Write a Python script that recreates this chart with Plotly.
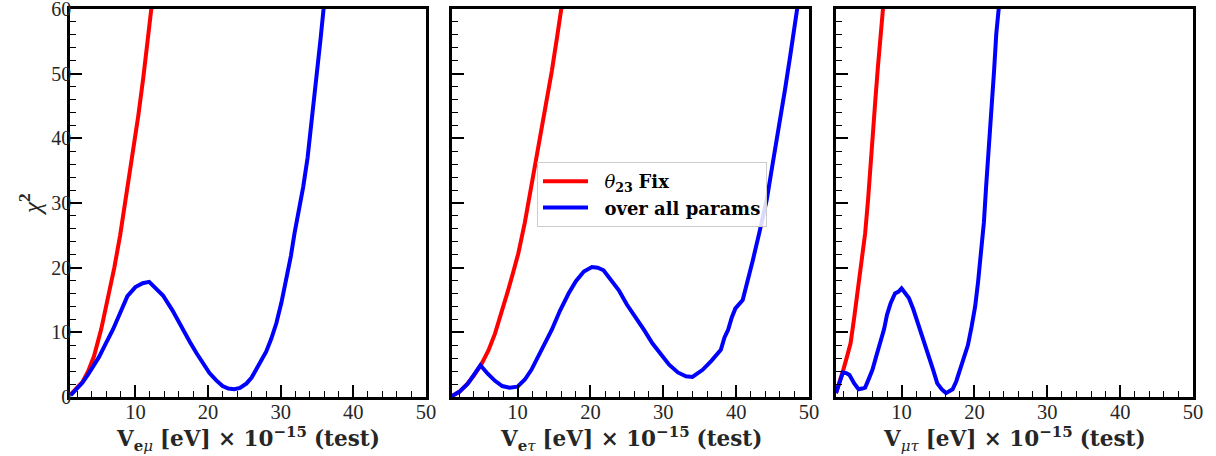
import plotly.graph_objects as go

# ---------------- data ----------------
p1_red_x = [1.0, 2.0, 2.7, 3.5, 4.3, 5.3, 6.2, 7.1, 7.9, 8.6, 9.6, 10.4, 11.1, 11.7, 12.2, 12.5]
p1_red_y = [0.3, 1.4, 2.3, 4.0, 6.3, 10.5, 15.0, 20.0, 25.0, 30.0, 37.0, 43.5, 49.5, 55.0, 60.0, 63.0]
p1_blue_x = [1.1, 2.0, 2.7, 3.5, 4.3, 5.0, 5.9, 6.9, 7.9, 8.9, 10.0, 11.0, 11.9, 12.8, 13.8, 15.1, 16.5,
             17.5, 18.4, 19.3, 20.2, 21.1, 22.0, 22.8, 23.6, 24.4, 25.3, 26.0, 26.6, 27.3, 28.0, 28.7,
             29.4, 30.1, 30.8, 31.4, 31.9, 32.5, 33.1, 33.7, 34.2, 34.7, 35.1, 35.5, 35.9, 36.2]
p1_blue_y = [0.3, 1.3, 2.2, 3.5, 4.8, 6.2, 8.2, 10.4, 13.0, 15.6, 17.0, 17.6, 17.8, 16.9, 15.7, 13.4, 10.4,
             8.5, 6.8, 5.2, 3.7, 2.6, 1.7, 1.3, 1.2, 1.4, 2.1, 3.0, 4.2, 5.5, 7.0, 9.0,
             11.4, 14.6, 18.1, 21.8, 25.3, 28.8, 32.5, 37.0, 41.8, 46.7, 51.1, 55.5, 60.0, 63.5]

p2_red_x = [0.9, 2.0, 3.0, 4.0, 5.0, 6.0, 6.9, 7.8, 8.7, 9.4, 10.1, 11.0, 11.9, 12.7, 13.6, 14.2, 14.7, 15.4, 16.0, 16.3]
p2_red_y = [0.1, 0.8, 1.9, 3.3, 5.0, 7.2, 9.8, 13.0, 16.5, 19.3, 22.2, 27.0, 32.5, 37.5, 43.0, 46.9, 50.4, 55.5, 60.0, 62.3]
p2_blue_x = [0.9, 2.0, 3.2, 4.2, 4.9, 5.9, 6.9, 7.9, 8.9, 10.0, 11.0, 11.9, 12.9, 13.8, 14.7, 15.8, 17.0,
             18.0, 19.1, 20.2, 21.0, 21.8, 22.8, 23.9, 25.0, 26.2, 27.4, 28.5, 29.7, 30.8, 32.0, 33.1,
             34.0, 35.4, 36.6, 37.9, 38.4, 38.9, 39.4, 39.9, 40.9, 41.6, 42.3, 43.2, 44.2, 45.0, 45.9,
             46.7, 47.4, 48.0, 48.4, 48.7]
p2_blue_y = [0.1, 0.8, 2.1, 3.6, 4.9, 3.6, 2.5, 1.7, 1.45, 1.6, 2.7, 4.2, 6.5, 8.6, 10.4, 13.3, 16.0,
             17.9, 19.4, 20.1, 20.0, 19.6, 18.2, 16.5, 14.3, 12.4, 10.3, 8.3, 6.5, 5.0, 3.8, 3.2,
             3.1, 4.2, 5.6, 7.3, 9.2, 10.4, 12.3, 13.7, 15.0, 18.0, 21.2, 25.5, 30.5, 36.0, 41.8,
             47.5, 52.6, 57.0, 60.0, 62.5]

p3_red_x = [1.0, 1.5, 2.0, 2.5, 3.0, 3.5, 4.1, 4.6, 5.0, 5.4, 5.7, 6.1, 6.4, 6.75, 7.1, 7.45, 7.6]
p3_red_y = [0.6, 2.3, 4.2, 6.2, 8.3, 12.3, 17.6, 21.5, 25.3, 30.5, 35.6, 40.5, 45.9, 51.0, 56.0, 60.0, 62.0]
p3_blue_x = [1.0, 1.5, 1.95, 2.4, 2.85, 3.5, 4.1, 4.6, 5.0, 5.5, 6.0, 6.5, 7.1, 7.6, 8.0, 8.5, 9.1,
             9.6, 10.0, 10.5, 11.0, 11.6, 12.2, 12.9, 13.6, 14.3, 14.9, 15.5, 16.1, 16.5, 17.0, 17.5,
             17.9, 18.5, 19.1, 19.6, 20.1, 20.5, 20.9, 21.3, 21.6, 22.0, 22.3, 22.7, 23.0, 23.35, 23.5]
p3_blue_y = [0.6, 2.2, 3.8, 3.7, 3.4, 2.1, 1.2, 1.3, 1.45, 2.8, 4.2, 6.2, 8.3, 10.5, 12.7, 14.5, 16.0,
             16.3, 16.8, 16.1, 15.3, 13.6, 11.6, 9.2, 6.8, 4.3, 2.1, 1.2, 0.6, 0.9, 1.2, 2.4,
             3.7, 5.8, 8.0, 10.8, 14.0, 17.8, 22.2, 27.0, 32.5, 38.5, 44.4, 50.5, 56.2, 60.0, 62.0]

x_tick_vals = [10, 20, 30, 40, 50]
y_tick_vals = [0, 10, 20, 30, 40, 50, 60]
x_titles = ["<b>V</b><sub><b>e</b><i>μ</i></sub> <b>[eV] × 10</b><sup><b>−15</b></sup> <b>(test)</b>",
            "<b>V</b><sub><b>e</b><i>τ</i></sub> <b>[eV] × 10</b><sup><b>−15</b></sup> <b>(test)</b>",
            "<b>V</b><sub><i>μτ</i></sub> <b>[eV] × 10</b><sup><b>−15</b></sup> <b>(test)</b>"]
legend_names = ["\u00a0\u00a0<i>θ</i><sub><b>23</b></sub> <b>Fix</b>", "\u00a0\u00a0<b>over all params</b>"]

# ---------------- figure ----------------
W, H = 1216, 456
TICKFONT = "Liberation Serif"
BOLDFONT = "DejaVu Serif"
RED, BLUE = "#ff0000", "#0000ff"

fig = go.Figure()
panels = [(p1_red_x, p1_red_y, p1_blue_x, p1_blue_y),
          (p2_red_x, p2_red_y, p2_blue_x, p2_blue_y),
          (p3_red_x, p3_red_y, p3_blue_x, p3_blue_y)]
for i, (rx, ry, bx, by) in enumerate(panels):
    xa = "x" if i == 0 else f"x{i+1}"
    ya = "y" if i == 0 else f"y{i+1}"
    fig.add_trace(go.Scatter(x=rx, y=ry, mode="lines", line=dict(color=RED, width=4),
                             name=legend_names[0], showlegend=(i == 1), xaxis=xa, yaxis=ya))
    fig.add_trace(go.Scatter(x=bx, y=by, mode="lines", line=dict(color=BLUE, width=4),
                             name=legend_names[1], showlegend=(i == 1), xaxis=xa, yaxis=ya))

domains_px = [(70, 426), (452, 809), (836, 1193)]
top_px, bot_px = 9, 397

layout = dict(
    width=W, height=H,
    margin=dict(l=0, r=0, t=0, b=0),
    paper_bgcolor="white", plot_bgcolor="white",
    font=dict(family=TICKFONT, size=20, color="#262626"),
    legend=dict(x=537 / W, y=1 - 162 / H, xanchor="left", yanchor="top",
                bgcolor="rgba(255,255,255,0.85)", bordercolor="#cccccc", borderwidth=1,
                font=dict(family=BOLDFONT, size=18, color="black"),
                tracegroupgap=0, itemwidth=45),
)
for i, (l, r) in enumerate(domains_px):
    xk = "xaxis" if i == 0 else f"xaxis{i+1}"
    yk = "yaxis" if i == 0 else f"yaxis{i+1}"
    ya = "y" if i == 0 else f"y{i+1}"
    xa = "x" if i == 0 else f"x{i+1}"
    layout[xk] = dict(domain=[l / W, r / W], range=[1, 50], anchor=ya,
                      tickvals=x_tick_vals, ticks="inside", ticklen=12, tickwidth=1.8,
                      tickcolor="black", showline=True, linecolor="black", linewidth=2.6,
                      mirror=True, showgrid=False, zeroline=False, automargin=False,
                      ticklabeloverflow="allow", ticklabelstandoff=-5,
                      tickfont=dict(size=20.5, family=TICKFONT, color="#262626"),
                      minor=dict(ticks="inside", ticklen=6, tickwidth=1.3, tickcolor="black",
                                 tick0=0, dtick=2, showgrid=False))
    layout[yk] = dict(domain=[1 - bot_px / H, 1 - top_px / H], range=[0, 60], anchor=xa,
                      tickvals=y_tick_vals, ticks="inside", ticklen=12, tickwidth=1.8,
                      tickcolor="black", showline=True, linecolor="black", linewidth=2.6,
                      mirror=True, showgrid=False, zeroline=False, automargin=False,
                      showticklabels=(i == 0), ticklabeloverflow="allow", ticklabelstandoff=-8,
                      tickfont=dict(size=20, family=TICKFONT, color="#262626"),
                      minor=dict(ticks="inside", ticklen=6, tickwidth=1.3, tickcolor="black",
                                 tick0=0, dtick=2, showgrid=False))
fig.update_layout(**layout)

annotations = []
for i, (l, r) in enumerate(domains_px):
    annotations.append(dict(text=x_titles[i], x=(l + r) / 2 / W, y=1 - 439 / H,
                            xref="paper", yref="paper", xanchor="center", yanchor="middle",
                            showarrow=False, font=dict(family=BOLDFONT, size=21.5, color="#262626")))
annotations.append(dict(text="<i>χ</i><sup><b>2</b></sup>", x=30 / W, y=1 - 204 / H,
                        xref="paper", yref="paper", xanchor="center", yanchor="middle",
                        textangle=-90, showarrow=False,
                        font=dict(family=TICKFONT, size=25, color="#262626")))
fig.update_layout(annotations=annotations)

fig.write_html("out.html")
